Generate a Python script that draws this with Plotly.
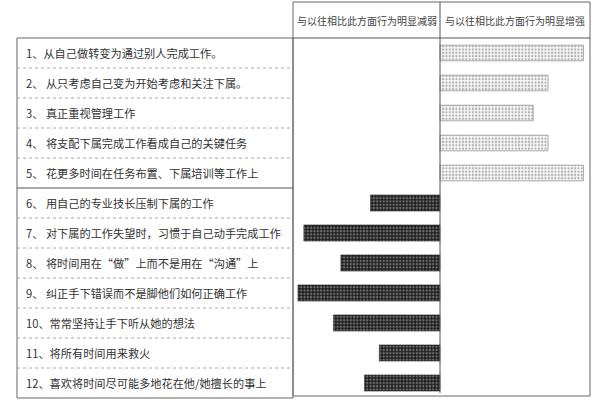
import plotly.graph_objects as go

# row labels (top to bottom)
behaviors = [
    "1、从自己做转变为通过别人完成工作。",
    "2、 从只考虑自己变为开始考虑和关注下属。",
    "3、 真正重视管理工作",
    "4、 将支配下属完成工作看成自己的关键任务",
    "5、 花更多时间在任务布置、下属培训等工作上",
    "6、 用自己的专业技长压制下属的工作",
    "7、 对下属的工作失望时，习惯于自己动手完成工作",
    "8、 将时间用在“做”上而不是用在“沟通”上",
    "9、 纠正手下错误而不是脚他们如何正确工作",
    "10、常常坚持让手下听从她的想法",
    "11、将所有时间用来救火",
    "12、喜欢将时间尽可能多地花在他/她擅长的事上",
]
header_left = "与以往相比此方面行为明显减弱"
header_right = "与以往相比此方面行为明显增强"

# bar lengths (relative units)
inc_rows = [1, 2, 3, 4, 5]
inc_vals = [97, 73, 63, 73, 97]
dec_rows = [6, 7, 8, 9, 10, 11, 12]
dec_vals = [47, 92, 67, 96, 72, 41, 51]

W, H = 600, 400
def px(x):
    return x / W
def py(y):
    return 1 - y / H

fig = go.Figure()

fig.add_trace(go.Bar(
    y=inc_rows, x=inc_vals, orientation="h", width=0.52,
    marker=dict(color="white",
                line=dict(color="#999", width=0.8),
                pattern=dict(shape=".", fgcolor="#666", bgcolor="#fbfbfb",
                             size=3.3, solidity=0.4, fillmode="overlay")),
    hoverinfo="skip",
))
fig.add_trace(go.Bar(
    y=dec_rows, x=[-v for v in dec_vals], orientation="h", width=0.54,
    marker=dict(color="#1a1a1a",
                line=dict(color="#1a1a1a", width=0.5),
                pattern=dict(shape=".", fgcolor="#c4c4c4", bgcolor="#1a1a1a",
                             size=3.3, solidity=0.45, fillmode="overlay")),
    hoverinfo="skip",
))

shapes = []
# left table frame
shapes.append(dict(type="rect", xref="paper", yref="paper",
                   x0=px(17), x1=px(293), y0=py(398), y1=py(38),
                   line=dict(color="#666", width=1)))
# row separators
for i in range(1, len(behaviors)):
    solid = (i == 5)
    shapes.append(dict(type="line", xref="paper", yref="y",
                       x0=px(17), x1=px(293), y0=i + 0.5, y1=i + 0.5,
                       line=dict(color="#555" if solid else "#aaa", width=1,
                                 dash="solid" if solid else "dot")))
# right panel frame
shapes.append(dict(type="rect", xref="paper", yref="paper",
                   x0=px(293), x1=px(590), y0=py(396), y1=py(2),
                   line=dict(color="#666", width=1)))
shapes.append(dict(type="line", xref="paper", yref="paper",
                   x0=px(293), x1=px(590), y0=py(38), y1=py(38),
                   line=dict(color="#555", width=1)))
shapes.append(dict(type="line", xref="paper", yref="paper",
                   x0=px(440), x1=px(440), y0=py(38), y1=py(2),
                   line=dict(color="#555", width=1)))
# center axis line
shapes.append(dict(type="line", xref="x", yref="paper",
                   x0=0, x1=0, y0=py(393), y1=py(38),
                   line=dict(color="#555", width=1)))

annotations = []
for i, label in enumerate(behaviors):
    annotations.append(dict(xref="paper", yref="y", x=px(24), y=i + 1,
                            text=label, showarrow=False, xanchor="left",
                            yanchor="middle",
                            font=dict(size=11.2, color="#333")))
annotations.append(dict(xref="paper", yref="paper", x=px(366.5), y=py(20),
                        text=header_left, showarrow=False,
                        xanchor="center", yanchor="middle",
                        font=dict(size=10, color="#444")))
annotations.append(dict(xref="paper", yref="paper", x=px(515), y=py(20),
                        text=header_right, showarrow=False,
                        xanchor="center", yanchor="middle",
                        font=dict(size=10, color="#444")))

fig.update_layout(
    width=W, height=H,
    margin=dict(l=0, r=0, t=0, b=0),
    paper_bgcolor="white", plot_bgcolor="white",
    showlegend=False,
    barmode="overlay",
    font=dict(family="Noto Sans CJK SC, sans-serif"),
    xaxis=dict(domain=[px(293), px(590)], range=[-147 / 1.48, 150 / 1.48],
               visible=False, fixedrange=True),
    yaxis=dict(domain=[py(398), py(38)], range=[12.5, 0.5],
               visible=False, fixedrange=True),
    shapes=shapes,
    annotations=annotations,
)

# page body has a default 8px margin; drop it so the 600x400 figure fills the window
fig.write_html("out.html", config={"displayModeBar": False},
               post_script="document.body.style.margin='0';")
